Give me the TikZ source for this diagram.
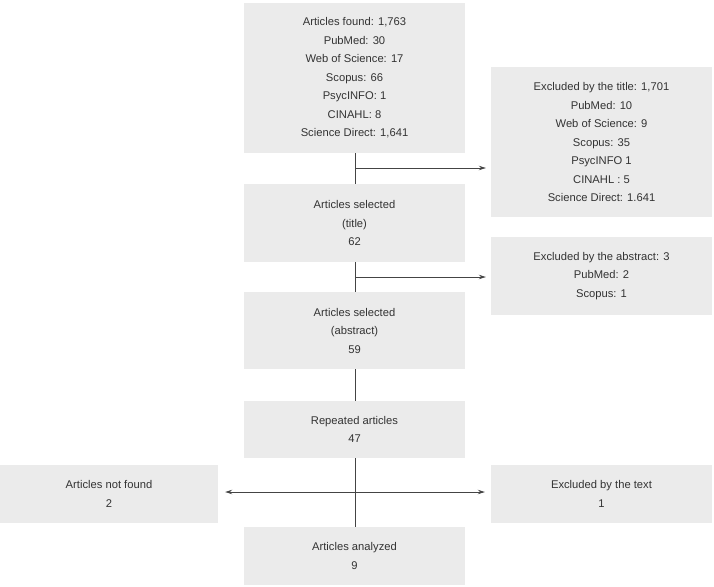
\documentclass[tikz,border=0pt]{standalone}
\usepackage{fontspec}
\setmainfont{Liberation Sans}
\usetikzlibrary{arrows.meta,calc}
\definecolor{boxgray}{HTML}{EBEBEB}
\definecolor{txtgray}{HTML}{333333}
\definecolor{linegray}{HTML}{444444}
\begin{document}
\begin{tikzpicture}[x=1pt,y=-1pt,
  flowbox/.style={fill=boxgray,draw=none,inner sep=0pt,align=center,text=txtgray,
    font=\fontsize{11.2}{18.5}\selectfont},
  conn/.style={draw=linegray,line width=0.8pt},
  arr/.style={conn,-{Stealth[length=7pt,width=4.5pt]}}]
\useasboundingbox (0,0) rectangle (714,586);
\node[flowbox,minimum width=221pt,minimum height=150pt] (found) at (354.5,78)
  {Articles found: 1,763\\PubMed: 30\\Web of Science: 17\\Scopus: 66\\PsycINFO: 1\\CINAHL: 8\\Science Direct: 1,641};
\node[flowbox,minimum width=221pt,minimum height=150pt] (extitle) at (601.5,142)
  {Excluded by the title: 1,701\\PubMed: 10\\Web of Science: 9\\Scopus: 35\\PsycINFO 1\\CINAHL : 5\\Science Direct: 1.641};
\node[flowbox,minimum width=221pt,minimum height=78pt] (seltitle) at (354.5,223)
  {Articles selected\\(title)\\62};
\node[flowbox,minimum width=221pt,minimum height=78pt] (exabs) at (601.5,276)
  {Excluded by the abstract: 3\\PubMed: 2\\Scopus: 1};
\node[flowbox,minimum width=221pt,minimum height=77pt] (selabs) at (354.5,330.5)
  {Articles selected\\(abstract)\\59};
\node[flowbox,minimum width=221pt,minimum height=57pt] (rep) at (354.5,429.5)
  {Repeated articles\\47};
\node[flowbox,minimum width=218pt,minimum height=58pt] (notfound) at (109,494)
  {Articles not found\\2};
\node[flowbox,minimum width=221pt,minimum height=58pt] (extext) at (601.5,494)
  {Excluded by the text\\1};
\node[flowbox,minimum width=221pt,minimum height=58pt] (anal) at (354.5,556)
  {Articles analyzed\\9};
\coordinate (b1) at (355,168);
\coordinate (b2) at (355,277);
\coordinate (b3) at (355,492);
\draw[conn] (found.south -| b1) -- (seltitle.north -| b1);
\draw[conn] (seltitle.south -| b1) -- (selabs.north -| b1);
\draw[conn] (selabs.south -| b1) -- (rep.north -| b1);
\draw[conn] (rep.south -| b1) -- (anal.north -| b1);
\draw[arr,shorten >=5pt] (b1) -- (b1 -| extitle.west);
\draw[arr,shorten >=5pt] (b2) -- (b2 -| exabs.west);
\draw[arr,shorten >=6pt] (b3) -- (b3 -| extext.west);
\draw[arr,shorten >=7pt] (b3) -- (b3 -| notfound.east);
\end{tikzpicture}
\end{document}
